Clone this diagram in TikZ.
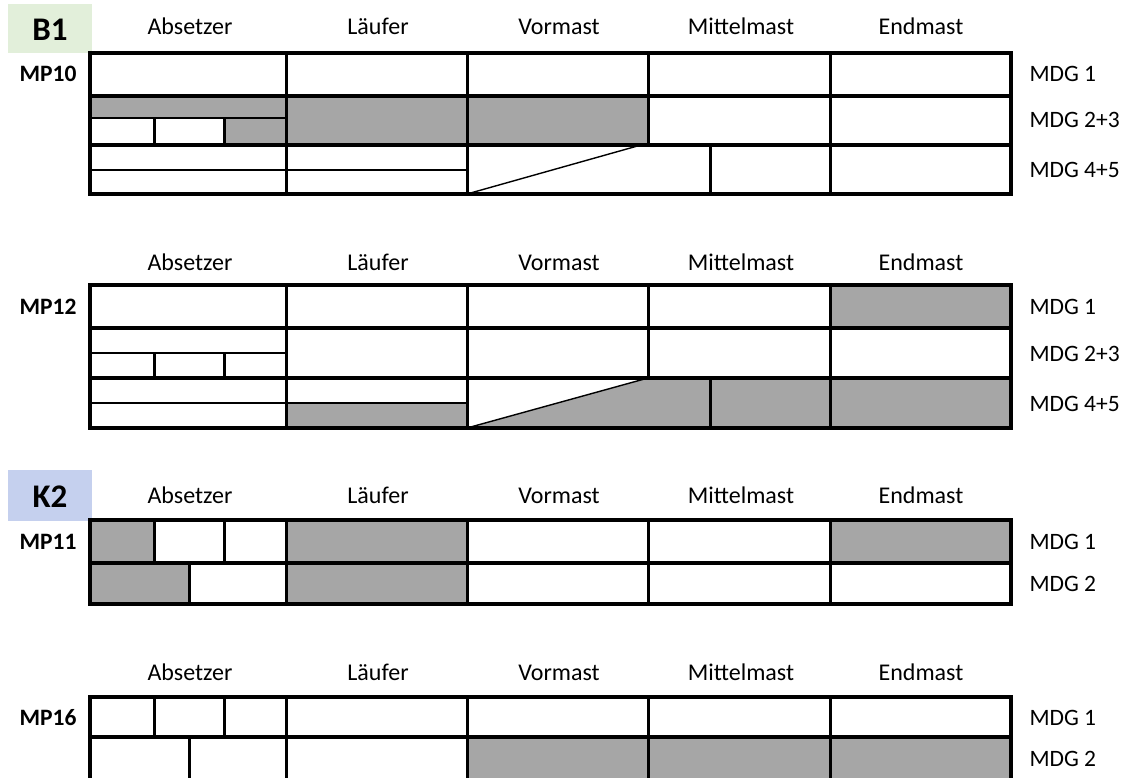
\documentclass[tikz,border=0pt]{standalone}
\usepackage{fontspec}
\setmainfont{Carlito}
\definecolor{cellgray}{HTML}{A6A6A6}
\definecolor{tagB}{HTML}{E2EFDA}
\definecolor{tagK}{HTML}{C5D0EE}
\begin{document}
\begin{tikzpicture}[x=1pt,y=-1pt,
  outer/.style={line width=4.4pt},
  rowline/.style={line width=4pt},
  colline/.style={line width=3pt},
  subline/.style={line width=2.6pt},
  diag/.style={line width=1.4pt},
  shade/.style={fill=cellgray},
  head/.style={font=\fontsize{24}{28}\selectfont, anchor=base},
  mp/.style={font=\bfseries\fontsize{23.5}{28}\selectfont, anchor=east},
  mdg/.style={font=\fontsize{23.5}{28}\selectfont, anchor=west},
  tag/.style={font=\bfseries\fontsize{33}{38}\selectfont, minimum width=84pt, inner sep=0pt}]
\useasboundingbox (0,0) rectangle (1126,778);
\clip (0,0) rectangle (1126,778);

% column headers of each block
\foreach \yy/\n in {35/a,270/b,503/c,680/d}{
  \node[head] (abs\n) at (190,\yy) {Absetzer};
  \node[head] (lau\n) at (378,\yy) {Läufer};
  \node[head] (vor\n) at (559,\yy) {Vormast};
  \node[head] (mit\n) at (741,\yy) {Mittelmast};
  \node[head] (end\n) at (921,\yy) {Endmast};
}

% group tags
\fill[tagB] (8,4) rectangle (92,53);
\node[tag] (B1) at (50,30) {B1};
\fill[tagK] (8,470) rectangle (92,521);
\node[tag] (K2) at (50,497) {K2};

% ---------------- MP10 ----------------
\fill[shade] (90,96) rectangle (286,118);
\fill[shade] (224,118) rectangle (286,145);
\fill[shade] (286,96) rectangle (648,145);
\foreach \x in {286,467,648,830} \draw[colline] (\x,53) -- (\x,145);
\foreach \x in {286,467,710,830} \draw[colline] (\x,145) -- (\x,194);
\draw[subline] (90,118) -- (286,118);
\foreach \x in {154,224} \draw[colline] (\x,118) -- (\x,145);
\draw[subline] (90,170) -- (467,170);
\draw[diag] (467,194) -- (641,145);
\draw[rowline] (90,96) -- (1011,96) (90,145) -- (1011,145);
\draw[outer] (90,53) rectangle (1011,194);
\node[mp] (mp10) at (80,74) {MP10};
\node[mdg] (m10a) at (1026,74) {MDG 1};
\node[mdg] (m10b) at (1026,120) {MDG 2+3};
\node[mdg] (m10c) at (1026,170) {MDG 4+5};

% ---------------- MP12 ----------------
\fill[shade] (830,285) rectangle (1011,328);
\fill[shade] (286,403) rectangle (467,428);
\fill[shade] (467,428) -- (648,378) -- (1011,378) -- (1011,428) -- cycle;
\foreach \x in {286,467,648,830} \draw[colline] (\x,285) -- (\x,378);
\foreach \x in {286,467,710,830} \draw[colline] (\x,378) -- (\x,428);
\draw[subline] (90,353) -- (286,353);
\foreach \x in {154,224} \draw[colline] (\x,353) -- (\x,378);
\draw[subline] (90,403) -- (467,403);
\draw[diag] (467,428) -- (648,378);
\draw[rowline] (90,328) -- (1011,328) (90,378) -- (1011,378);
\draw[outer] (90,285) rectangle (1011,428);
\node[mp] (mp12) at (80,307) {MP12};
\node[mdg] (m12a) at (1026,307) {MDG 1};
\node[mdg] (m12b) at (1026,354) {MDG 2+3};
\node[mdg] (m12c) at (1026,404) {MDG 4+5};

% ---------------- MP11 ----------------
\fill[shade] (90,520) rectangle (154,563);
\fill[shade] (90,563) rectangle (189,604);
\fill[shade] (286,520) rectangle (467,604);
\fill[shade] (830,520) rectangle (1011,563);
\foreach \x in {286,467,648,830} \draw[colline] (\x,520) -- (\x,604);
\foreach \x in {154,224} \draw[colline] (\x,520) -- (\x,563);
\draw[colline] (189,563) -- (189,604);
\draw[rowline] (90,563) -- (1011,563);
\draw[outer] (90,520) rectangle (1011,604);
\node[mp] (mp11) at (80,542) {MP11};
\node[mdg] (m11a) at (1026,542) {MDG 1};
\node[mdg] (m11b) at (1026,584) {MDG 2};

% ---------------- MP16 ----------------
\fill[shade] (467,737) rectangle (1011,792);
\foreach \x in {286,467,648,830} \draw[colline] (\x,697) -- (\x,792);
\foreach \x in {154,224} \draw[colline] (\x,697) -- (\x,737);
\draw[colline] (189,737) -- (189,792);
\draw[rowline] (90,737) -- (1011,737);
\draw[outer] (90,697) rectangle (1011,792);
\node[mp] (mp16) at (80,718) {MP16};
\node[mdg] (m16a) at (1026,718) {MDG 1};
\node[mdg] (m16b) at (1026,759) {MDG 2};
\end{tikzpicture}
\end{document}
